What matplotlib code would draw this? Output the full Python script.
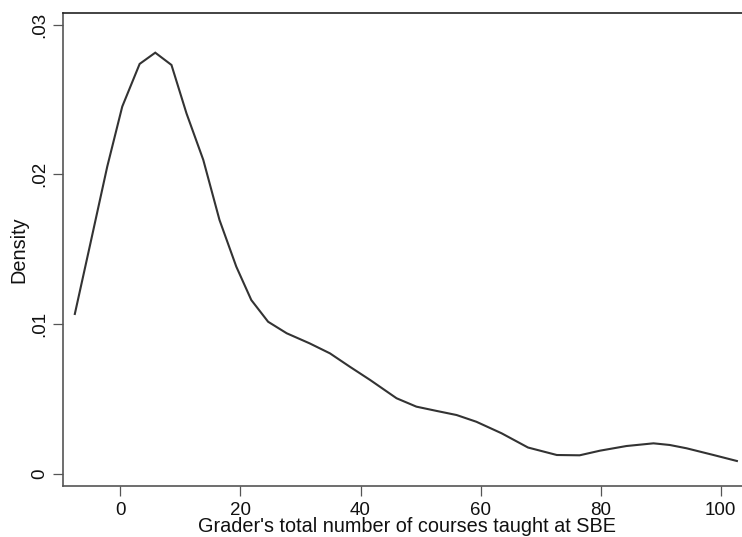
import matplotlib
matplotlib.use("Agg")
import matplotlib.pyplot as plt
from matplotlib.ticker import FuncFormatter

plt.rcParams['font.family'] = ['Liberation Sans', 'DejaVu Sans']

# Kernel density estimate of graders' course counts
courses = [-7.6, -5.0, -2.2, 0.3, 3.2, 5.8, 8.5, 11.0, 13.8, 16.5, 19.3, 21.8,
           24.6, 27.7, 31.5, 34.9, 38.2, 41.6, 46.0, 49.3, 52.6, 56.0, 59.3,
           63.5, 67.9, 72.7, 76.5, 79.9, 84.3, 88.8, 91.5, 94.3, 98.8, 102.7]
density = [0.01067, 0.01539, 0.02051, 0.02452, 0.02737, 0.02812, 0.02730,
           0.02407, 0.02096, 0.01695, 0.01383, 0.01160, 0.01015, 0.00938,
           0.00871, 0.00804, 0.00715, 0.00626, 0.00504, 0.00448, 0.00420,
           0.00392, 0.00347, 0.00270, 0.00175, 0.00125, 0.00123, 0.00154,
           0.00185, 0.00203, 0.00192, 0.00170, 0.00125, 0.00085]

x_ticks = [0, 20, 40, 60, 80, 100]
y_ticks = [0, 0.01, 0.02, 0.03]

W, H = 742, 537
fig = plt.figure(figsize=(W / 100, H / 100), dpi=100)
left, right, top, bottom = 62.7, 742.0, 13.3, 485.7
ax = fig.add_axes([left / W, 1 - bottom / H, (right - left) / W, (bottom - top) / H])

ax.plot(courses, density, color='#333333', lw=1.5, solid_joinstyle='miter')

ax.set_xlim(-9.62, 103.55)
ax.set_ylim(-0.0008, 0.03075)

ax.set_xticks(x_ticks)
ax.set_yticks(y_ticks)
ax.yaxis.set_major_formatter(FuncFormatter(lambda v, p: '0' if v == 0 else f'{v:.2f}'.lstrip('0')))

ax.tick_params(axis='both', direction='out', length=7.5, width=0.9, color='#555555',
               labelsize=13.5, labelcolor='#111111')
ax.tick_params(axis='x', pad=4)
ax.tick_params(axis='y', pad=3)
for lbl in ax.get_yticklabels():
    lbl.set_rotation(90)
    lbl.set_va('center')

ax.spines['right'].set_visible(False)
ax.spines['top'].set_color('#222222')
ax.spines['top'].set_linewidth(1.2)
for s in ('left', 'bottom'):
    ax.spines[s].set_color('#555555')
    ax.spines[s].set_linewidth(1.2)

ax.set_xlabel("Grader's total number of courses taught at SBE", fontsize=14.3,
              color='#111111')
ax.xaxis.set_label_coords(0.507, -0.067)
ax.set_ylabel('Density', fontsize=14.3, color='#111111', labelpad=2)

fig.savefig('out.png', dpi=100)
